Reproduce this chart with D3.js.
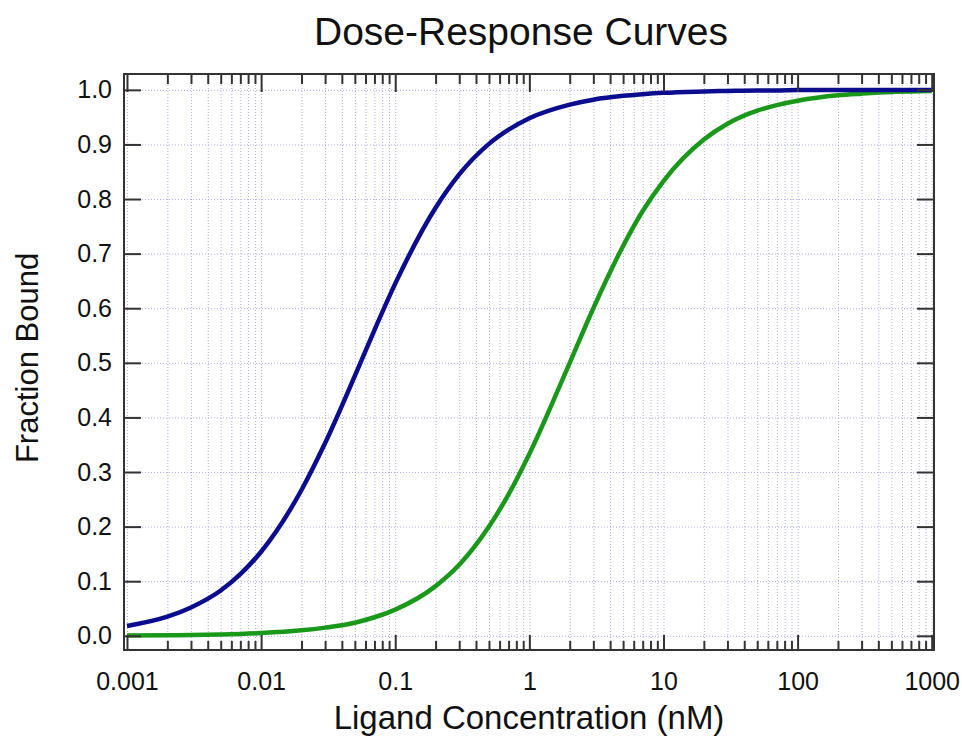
<!DOCTYPE html>
<html>
<head>
<meta charset="utf-8">
<script src="https://cdn.jsdelivr.net/npm/d3@7"></script>
<style>
  body { margin: 0; background: #fff; }
  text { font-family: "Liberation Sans", Arial, sans-serif; fill: #111; }
</style>
</head>
<body>
<div class="graph"></div>
<script>
// data (fraction bound at each concentration, nM)
const concentration = [0.001, 0.002, 0.003, 0.005, 0.007,
                       0.01, 0.02, 0.03, 0.05, 0.07,
                       0.1, 0.2, 0.3, 0.5, 0.7,
                       1, 2, 3, 5, 7,
                       10, 20, 30, 50, 70,
                       100, 200, 300, 500, 700, 1000]
const blueBound = [0.018, 0.035, 0.052, 0.083, 0.113,
                   0.154, 0.267, 0.353, 0.476, 0.560,
                   0.645, 0.784, 0.845, 0.901, 0.927,
                   0.948, 0.973, 0.982, 0.989, 0.992,
                   0.9945, 0.997, 0.998, 0.999, 0.999,
                   0.9995, 0.9997, 0.9998, 0.9999, 0.9999, 0.9999]
const greenBound = [0.0005, 0.001, 0.0015, 0.0025, 0.0035,
                    0.005, 0.010, 0.015, 0.024, 0.034,
                    0.048, 0.091, 0.130, 0.200, 0.259,
                    0.333, 0.500, 0.600, 0.714, 0.778,
                    0.833, 0.909, 0.938, 0.962, 0.972,
                    0.980, 0.990, 0.993, 0.996, 0.997, 0.998]
const xMajorTicks = [0.001, 0.01, 0.1, 1, 10, 100, 1000]
const xTickLabels = ["0.001", "0.01", "0.1", "1", "10", "100", "1000"]
const yTicks = [0, 0.1, 0.2, 0.3, 0.4, 0.5, 0.6, 0.7, 0.8, 0.9, 1.0]
const yTickLabels = ["0.0", "0.1", "0.2", "0.3", "0.4", "0.5", "0.6", "0.7", "0.8", "0.9", "1.0"]

var margin = { top: 74, right: 28, bottom: 86, left: 124 };
let width = 962 - margin.left - margin.right;
let height = 736 - margin.top - margin.bottom;

let svg = d3.select('.graph').append('svg')
    .attr("width", 962)
    .attr("height", 736)

let g = svg.append("g")
    .attr("transform", "translate(" + margin.left + "," + margin.top + ")")

let x = d3.scaleLog()
    .domain([0.00095, 1040])
    .range([0, width])

let y = d3.scaleLinear()
    .domain([-0.026, 1.029])
    .range([height, 0])

let allTicks = x.ticks()
let minorTicks = allTicks.filter(function (d) {
    return xMajorTicks.indexOf(+d.toPrecision(6)) < 0
})

// ========= grid ============
g.append("g")
    .attr("class", "grid")
    .attr("transform", "translate(0," + height + ")")
    .call(d3.axisBottom(x).tickValues(allTicks).tickSize(-height).tickFormat(""))
g.append("g")
    .attr("class", "grid")
    .call(d3.axisLeft(y).tickValues(yTicks).tickSize(-width).tickFormat(""))
g.selectAll(".grid .domain").remove()
g.selectAll(".grid line")
    .attr("stroke", "#aeaeea")
    .attr("stroke-width", 1)
    .attr("stroke-dasharray", "1,2")

// ========= curves ============
let line = function (vals) {
    return d3.line()
        .x(function (d, i) { return x(concentration[i]) })
        .y(function (d) { return y(d) })
        .curve(d3.curveMonotoneX)(vals)
}

g.append("path")
    .attr("d", line(greenBound))
    .attr("stroke", "#1a981a")
    .attr("fill", "none")
    .attr("stroke-width", 4.5)

g.append("path")
    .attr("d", line(blueBound))
    .attr("stroke", "#0c0c8e")
    .attr("fill", "none")
    .attr("stroke-width", 4.5)

// ========= axes ============
let tickColor = "#333"

// bottom: major with labels, minor without
let xBottom = g.append("g")
    .attr("class", "axis")
    .attr("transform", "translate(0," + height + ")")
    .call(d3.axisBottom(x).tickValues(xMajorTicks).tickSize(-15)
        .tickFormat(function (d, i) { return xTickLabels[i] }))
g.append("g")
    .attr("class", "axis")
    .attr("transform", "translate(0," + height + ")")
    .call(d3.axisBottom(x).tickValues(minorTicks).tickSize(-9).tickFormat(""))
// top
g.append("g")
    .attr("class", "axis")
    .call(d3.axisTop(x).tickValues(xMajorTicks).tickSize(-18).tickFormat(""))
g.append("g")
    .attr("class", "axis")
    .call(d3.axisTop(x).tickValues(minorTicks).tickSize(-10).tickFormat(""))
// left
let yLeft = g.append("g")
    .attr("class", "axis")
    .call(d3.axisLeft(y).tickValues(yTicks).tickSize(-17).tickPadding(12)
        .tickFormat(function (d, i) { return yTickLabels[i] }))
// right
g.append("g")
    .attr("class", "axis")
    .attr("transform", "translate(" + width + ",0)")
    .call(d3.axisRight(y).tickValues(yTicks).tickSize(-17).tickFormat(""))

g.selectAll(".axis .domain").remove()
g.selectAll(".axis line")
    .attr("stroke", tickColor)
    .attr("stroke-width", 2)

xBottom.selectAll("text")
    .style("font-size", "25px")
    .attr("fill", "#111")
    .attr("dy", "0.35em")
    .attr("y", 31)
yLeft.selectAll("text")
    .style("font-size", "25px")
    .attr("fill", "#111")

// frame
g.append("rect")
    .attr("width", width)
    .attr("height", height)
    .attr("fill", "none")
    .attr("stroke", tickColor)
    .attr("stroke-width", 2)

// ========= titles ============
svg.append("text")
    .attr("x", margin.left + width / 2 - 8)
    .attr("y", 45)
    .attr("text-anchor", "middle")
    .style("font-size", "39px")
    .text("Dose-Response Curves")

svg.append("text")
    .attr("x", margin.left + width / 2)
    .attr("y", 729)
    .attr("text-anchor", "middle")
    .style("font-size", "33px")
    .text("Ligand Concentration (nM)")

svg.append("text")
    .attr("transform", "translate(38," + 358 + ") rotate(-90)")
    .attr("text-anchor", "middle")
    .style("font-size", "31px")
    .text("Fraction Bound")
</script>
</body>
</html>
